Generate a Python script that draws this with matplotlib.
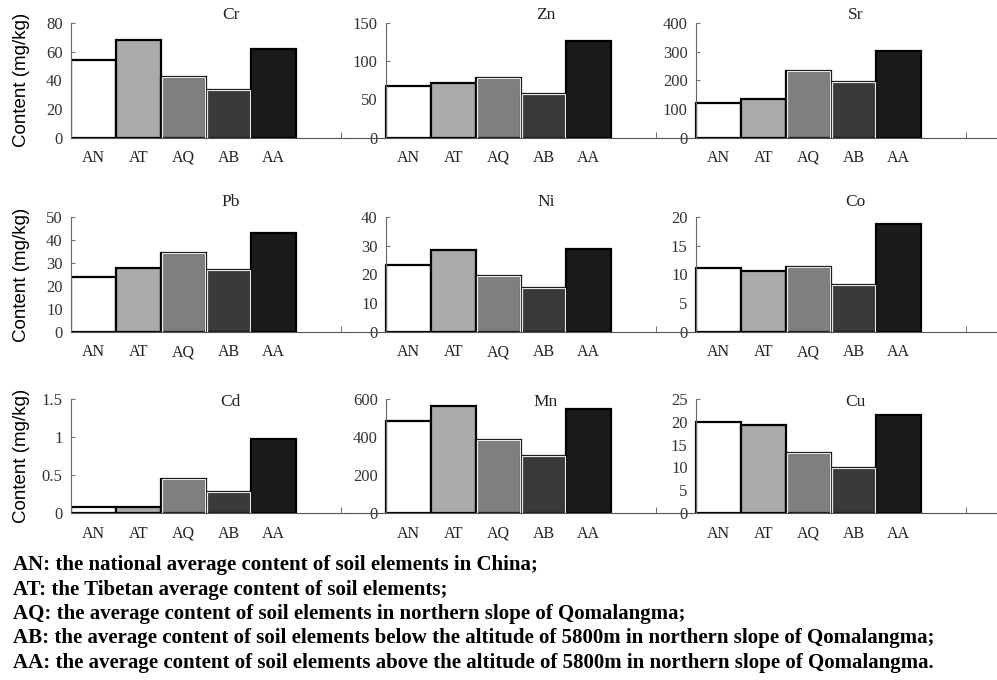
import matplotlib.pyplot as plt
import numpy as np

# categories and element contents (mg/kg)
categories = ['AN', 'AT', 'AQ', 'AB', 'AA']
elements = ['Cr', 'Zn', 'Sr', 'Pb', 'Ni', 'Co', 'Cd', 'Mn', 'Cu']
cr = [54, 68, 42, 33, 62]
zn = [67, 71, 78, 57, 126]
sr = [120, 135, 231, 195, 302]
pb = [24, 28, 34.5, 27, 43]
ni = [23.3, 28.5, 19.6, 15.2, 29]
co = [11.1, 10.6, 11.3, 8.2, 18.7]
cd = [0.075, 0.08, 0.45, 0.28, 0.97]
mn = [482, 564, 383, 300, 548]
cu = [20, 19.4, 13.2, 9.8, 21.6]
values = [cr, zn, sr, pb, ni, co, cd, mn, cu]

yticks = [[0, 20, 40, 60, 80], [0, 50, 100, 150], [0, 100, 200, 300, 400],
          [0, 10, 20, 30, 40, 50], [0, 10, 20, 30, 40], [0, 5, 10, 15, 20],
          [0, 0.5, 1, 1.5], [0, 200, 400, 600], [0, 5, 10, 15, 20, 25]]
ytick_labels = [None, None, None, None, None, None, ['0', '0.5', '1', '1.5'], None, None]

notes = ['AN: the national average content of soil elements in China;',
         'AT: the Tibetan average content of soil elements;',
         'AQ: the average content of soil elements in northern slope of Qomalangma;',
         'AB: the average content of soil elements below the altitude of 5800m in northern slope of Qomalangma;',
         'AA: the average content of soil elements above the altitude of 5800m in northern slope of Qomalangma.']

fills = ['white', '#aaaaaa', '#7f7f7f', '#3a3a3a', '#1b1b1b']

W, H = 997, 680
fig = plt.figure(figsize=(W / 100, H / 100), dpi=100)

# pixel layout
yaxis_px = [71, 386, 696]
col_bounds = [(71, 350), (350, 662), (662, 997)]
rows = [(23, 137.5), (217, 332), (399, 513)]
unit = 45.0
title_frac = [1.07, 1.13, 0.97]

serif = 'Liberation Serif'

for i, el in enumerate(elements):
    r, c = divmod(i, 3)
    x0, x1 = col_bounds[c]
    top, zero = rows[r]
    ax = fig.add_axes([x0 / W, 1 - zero / H, (x1 - x0) / W, (zero - top) / H])
    xs = np.arange(len(categories)) + 0.5
    ax.bar(xs, values[i], width=1.0, color=fills, edgecolor='black', linewidth=1.6, zorder=2)
    # light inner rim on AQ / AB bars
    ax.bar(xs[2:4], values[i][2:4], width=0.96, color='none', edgecolor='#e6e6e6',
           linewidth=0.9, zorder=3)
    ax.set_xlim((x0 - yaxis_px[c]) / unit, (x1 - yaxis_px[c]) / unit)
    ax.set_ylim(0, yticks[i][-1])
    for s in ['top', 'right']:
        ax.spines[s].set_visible(False)
    ax.spines['left'].set_position(('data', 0))
    ax.spines['left'].set_color('#666666')
    ax.spines['bottom'].set_color('#555555')
    ax.spines['left'].set_zorder(4)
    ax.set_yticks(yticks[i])
    if ytick_labels[i] is not None:
        ax.set_yticklabels(ytick_labels[i])
    ax.tick_params(axis='y', direction='in', length=3, color='#777777', pad=6,
                   labelsize=12, labelcolor='#333333')
    for t in ax.get_yticklabels():
        t.set_fontfamily(serif)
    ax.set_xticks(xs)
    ax.set_xticklabels(categories, fontfamily=serif, fontsize=11.5, color='#222222')
    ax.tick_params(axis='x', which='major', length=0, pad=9)
    ax.set_xticks([6], minor=True)
    ax.tick_params(axis='x', which='minor', direction='in', length=4, color='#555555')
    ax.patch.set_visible(False)
    ax.text(3.55, title_frac[r], el, transform=ax.get_xaxis_transform(), ha='center',
            va='center', fontfamily=serif, fontsize=12.5, color='#222222')

for r, (top, zero) in enumerate(rows):
    fig.text(21 / W, 1 - (top + zero) / 2 / H, 'Content (mg/kg)', rotation=90,
             ha='center', va='center', fontfamily='Liberation Sans', fontsize=13.5)

for k, line in enumerate(notes):
    fig.text(13 / W, 1 - (565 + 24.5 * k) / H, line, ha='left', va='center',
             fontfamily=serif, fontweight='bold', fontsize=15)

fig.savefig('out.png', dpi=100)
